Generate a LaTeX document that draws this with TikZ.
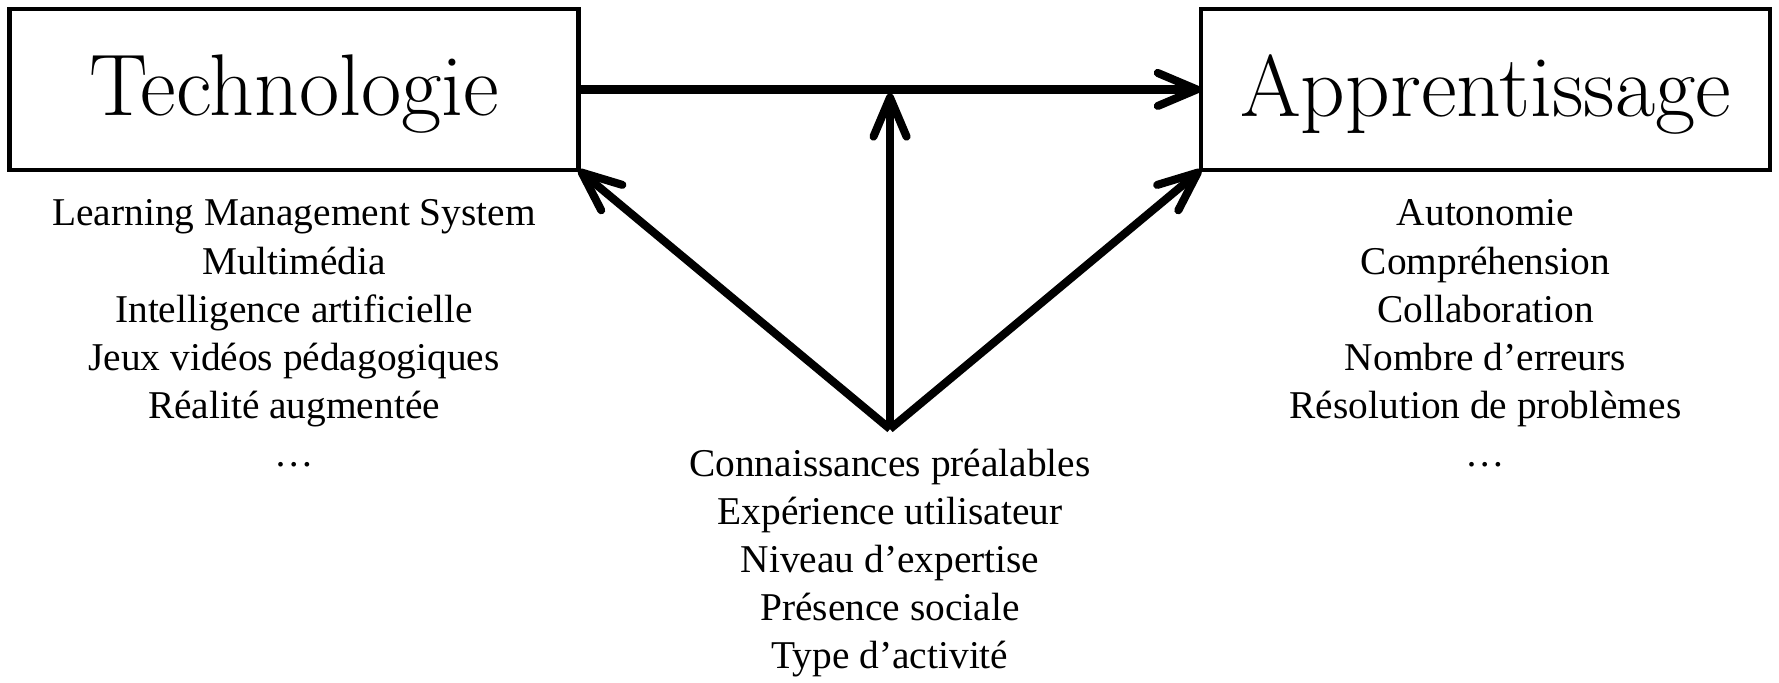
\documentclass[tikz,border=0pt]{standalone}
\usepackage{fontspec}
\newfontfamily\listfont{Liberation Serif}
\usetikzlibrary{arrows.meta}
\tikzset{
  box/.style={draw, line width=1.3pt, minimum width=5.69cm, minimum height=1.61cm,
    inner sep=0pt, outer sep=0pt, text depth=0.08cm, font=\fontsize{24.9}{30}\selectfont},
  item/.style={anchor=base, inner sep=0pt, font=\listfont\fontsize{11.2}{13.5}\selectfont},
  conn/.style={line width=2.3pt, -{Straight Barb[length=3.9mm,width=3.3mm,round]}}
}
\begin{document}
\begin{tikzpicture}[x=0.01cm,y=-0.01cm]
\useasboundingbox (0,0) rectangle (1779,683);
\node[box] (tech) at (294,89.5) {Technologie};
\node[box] (appr) at (1485.5,89.5) {Apprentissage};
\coordinate (src) at (890,429);
\draw[conn] (tech.east) -- (appr.west);
\draw[conn, shorten >=0.04cm] (src) -- (src |- tech.east);
\draw[conn] (src) -- (tech.south east);
\draw[conn] (src) -- (appr.south west);
\foreach \t [count=\i] in {Learning Management System, Multimédia, Intelligence artificielle, Jeux vidéos pédagogiques, Réalité augmentée, …}
  \node[item] (tl\i) at (294,{226+48.2*(\i-1)}) {\t};
\foreach \t [count=\i] in {Autonomie, Compréhension, Collaboration, Nombre d’erreurs, Résolution de problèmes, …}
  \node[item] (ar\i) at (1485.5,{226+48.2*(\i-1)}) {\t};
\foreach \t [count=\i] in {Connaissances préalables, Expérience utilisateur, Niveau d’expertise, Présence sociale, Type d’activité}
  \node[item] (md\i) at (890,{477+48*(\i-1)}) {\t};
\end{tikzpicture}
\end{document}
